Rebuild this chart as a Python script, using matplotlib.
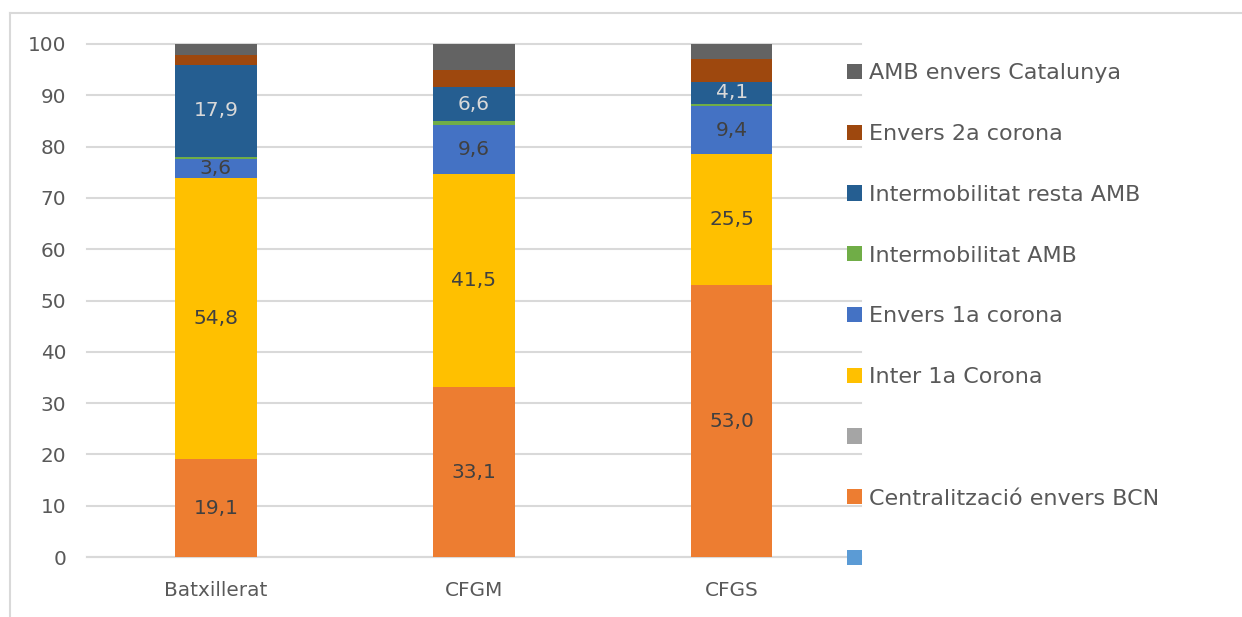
import matplotlib.pyplot as plt
import numpy as np
from matplotlib.lines import Line2D
from matplotlib.patches import Patch

plt.rcParams['font.family'] = ['DejaVu Sans']

categories = ["Batxillerat", "CFGM", "CFGS"]

# stacked bottom -> top, as in the source sheet
series_names = ["", "Centralització envers BCN", "", "Inter 1a Corona",
                "Envers 1a corona", "Intermobilitat AMB",
                "Intermobilitat resta AMB", "Envers 2a corona",
                "AMB envers Catalunya"]
series_values = [
    [0.0, 0.0, 0.0],
    [19.1, 33.1, 53.0],
    [0.0, 0.0, 0.0],
    [54.8, 41.5, 25.5],
    [3.6, 9.6, 9.4],
    [0.5, 0.8, 0.5],
    [17.9, 6.6, 4.1],
    [1.9, 3.4, 4.5],
    [2.2, 5.0, 3.0],
]
colors = ["#5B9BD5", "#ED7D31", "#A5A5A5", "#FFC000", "#4472C4",
          "#70AD47", "#255E91", "#9E480E", "#636363"]
labelled = {1: "#404040", 3: "#404040", 4: "#404040", 6: "#D9D9D9"}

fig = plt.figure(figsize=(12.42, 6.17), dpi=100)
ax = fig.add_axes([0.070, 0.0972, 0.623, 0.8315])

x = np.arange(len(categories))
bottom = np.zeros(len(categories))
handles = []
for i, (name, vals) in enumerate(zip(series_names, series_values)):
    vals = np.array(vals)
    bars = ax.bar(x, vals, 0.316, bottom=bottom, color=colors[i], zorder=3)
    if i in labelled:
        for xi, b, v in zip(x, bottom, vals):
            ax.text(xi, b + v / 2, f"{v:.1f}".replace(".", ","),
                    ha="center", va="center", fontsize=14.5,
                    color=labelled[i], zorder=4)
    handles.append(Patch(facecolor=colors[i], label=name))
    bottom += vals

ax.set_xlim(-0.5, 2.5)
ax.set_ylim(0, 100)
ax.set_yticks(range(0, 101, 10))
ax.set_xticks(x)
ax.set_xticklabels(categories)
ax.yaxis.grid(True, color="#D9D9D9", linewidth=1.5, zorder=0)
for gl in ax.get_ygridlines():
    gl.set_clip_on(False)
for s in ["top", "right", "left"]:
    ax.spines[s].set_visible(False)
ax.spines["bottom"].set_color("#D9D9D9")
ax.spines["bottom"].set_linewidth(1.5)
ax.tick_params(axis="both", length=0, labelsize=14.4, colors="#595959")
ax.tick_params(axis="x", pad=17)
ax.tick_params(axis="y", pad=15)

leg = fig.legend(handles[::-1], series_names[::-1], loc="upper left",
                 bbox_to_anchor=(0.675, 0.912), frameon=False,
                 fontsize=16, handlelength=0.68, handleheight=0.68,
                 handletextpad=0.32, labelspacing=1.835, borderaxespad=0)
for t in leg.get_texts():
    t.set_color("#595959")

# outer chart border
fig.add_artist(Line2D([10 / 1242, 1.0], [1 - 13 / 617, 1 - 13 / 617],
                      transform=fig.transFigure, color="#D9D9D9", lw=1.5))
fig.add_artist(Line2D([10 / 1242, 10 / 1242], [0, 1 - 13 / 617],
                      transform=fig.transFigure, color="#D9D9D9", lw=1.5))

fig.savefig("out.png", dpi=100)
